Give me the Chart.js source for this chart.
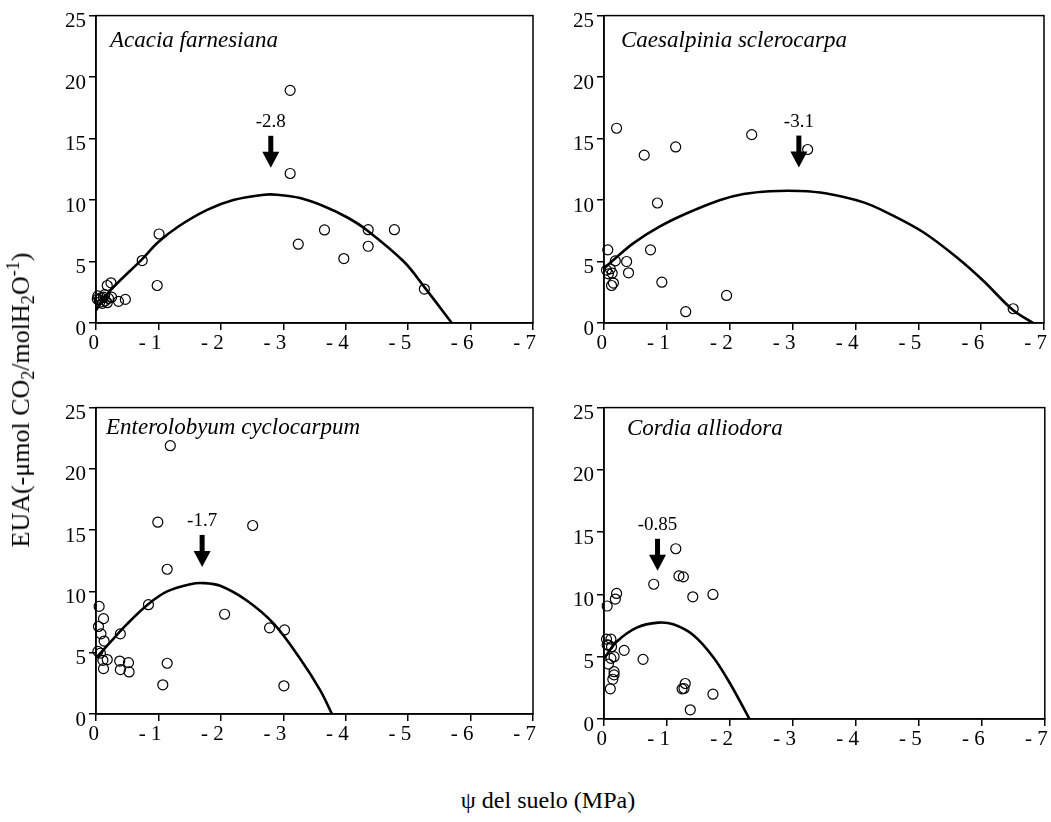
<!DOCTYPE html>
<html>
<head>
<meta charset="utf-8">
<script src="https://cdn.jsdelivr.net/npm/chart.js@4/dist/chart.umd.min.js"></script>
<style>
  html, body { margin: 0; padding: 0; background: #fff; }
  #fig { position: relative; width: 1051px; height: 822px; overflow: hidden;
         font-family: 'Liberation Serif', 'Times New Roman', serif; color: #000; }
  #fig canvas { position: absolute; }
  .ytitle { position: absolute; left: 21px; top: 400px; transform: translate(-50%, -50%) rotate(-90deg);
            font-size: 26px; white-space: nowrap; line-height: 1; }
  .ytitle sub { font-size: 0.7em; vertical-align: -0.3em; line-height: 0; }
  .ytitle sup { font-size: 0.7em; vertical-align: 0.55em; line-height: 0; }
  .xtitle { position: absolute; left: 548px; top: 788px; transform: translateX(-50%);
            font-size: 24px; white-space: nowrap; line-height: 1; }
</style>
</head>
<body>
<div id="fig">
  <canvas id="p0" width="504" height="355" style="left:36px;top:0px"></canvas>
  <canvas id="p1" width="507" height="355" style="left:544px;top:0px"></canvas>
  <canvas id="p2" width="504" height="355" style="left:36px;top:392px"></canvas>
  <canvas id="p3" width="507" height="355" style="left:544px;top:392px"></canvas>
  <div class="ytitle">EUA(-μmol CO<sub>2</sub>/molH<sub>2</sub>O<sup>-1</sup>)</div>
  <div class="xtitle">ψ del suelo (MPa)</div>
</div>
<script>
// Soil water potential (MPa, negative) vs. water-use efficiency, one panel per species.
const species = ['Acacia farnesiana', 'Caesalpinia sclerocarpa', 'Enterolobyum cyclocarpum', 'Cordia alliodora'];

// Water potential at which each fitted curve peaks
const optimumPsi = [-2.8, -3.1, -1.7, -0.85];

const xTickLabels = ['0', '- 1', '- 2', '- 3', '- 4', '- 5', '- 6', '- 7'];

// Observations [psi, EUA]
const acaciaPoints = [
  [-3.11, 18.92], [-3.11, 12.16], [-3.24, 6.41], [-3.66, 7.57], [-3.97, 5.24], [-4.36, 7.59],
  [-4.36, 6.24], [-4.78, 7.59], [-5.26, 2.76], [-1.01, 7.24], [-0.74, 5.08], [-0.98, 3.05],
  [-0.18, 3.05], [-0.24, 3.27], [-0.36, 1.76], [-0.47, 1.92],
  [-0.03, 2.2], [-0.05, 1.9], [-0.08, 2.05], [-0.10, 1.6], [-0.12, 2.1], [-0.15, 1.8],
  [-0.18, 1.65], [-0.20, 2.0], [-0.25, 2.1], [-0.06, 1.7], [-0.14, 2.3], [-0.02, 1.95]
];
const caesalpiniaPoints = [
  [-0.2, 15.84], [-0.64, 13.65], [-1.14, 14.32], [-2.35, 15.32], [-3.24, 14.11], [-0.85, 9.76],
  [-0.74, 5.95], [-0.06, 5.95], [-0.36, 5.0], [-0.39, 4.08], [-0.92, 3.32], [-1.95, 2.24],
  [-1.3, 0.92], [-6.51, 1.16],
  [-0.04, 4.3], [-0.07, 4.0], [-0.10, 4.4], [-0.13, 4.05], [-0.12, 3.05], [-0.15, 3.25], [-0.18, 5.05]
];
const enterolobiumPoints = [
  [-1.19, 21.89], [-0.99, 15.65], [-2.51, 15.38], [-1.14, 11.81], [-0.84, 8.92], [-2.06, 8.14],
  [-2.78, 7.03], [-3.02, 6.86], [-0.39, 6.54], [-0.38, 4.32], [-0.39, 3.62], [-0.52, 4.19],
  [-0.53, 3.43], [-1.14, 4.14], [-1.07, 2.38], [-3.01, 2.3],
  [-0.05, 8.78], [-0.12, 7.78], [-0.04, 7.14], [-0.08, 6.54], [-0.13, 5.95], [-0.03, 5.11],
  [-0.07, 4.97], [-0.11, 4.38], [-0.18, 4.44], [-0.12, 3.7]
];
const cordiaPoints = [
  [-1.14, 13.67], [-0.79, 10.82], [-1.19, 11.49], [-1.26, 11.41], [-1.41, 9.81], [-1.73, 10.0],
  [-0.20, 10.08], [-0.18, 9.63], [-0.05, 9.07], [-0.32, 5.51], [-0.62, 4.79], [-1.29, 2.85],
  [-1.24, 2.42], [-1.27, 2.45], [-1.73, 1.99], [-1.37, 0.74], [-0.10, 2.42],
  [-0.04, 6.41], [-0.11, 6.41], [-0.07, 5.93], [-0.12, 5.8], [-0.16, 5.0], [-0.11, 4.87],
  [-0.07, 4.41], [-0.16, 3.8], [-0.16, 3.54], [-0.14, 3.19], [-0.05, 5.95]
];

// Fitted response curves [psi, EUA]
const acaciaCurve = [
  [0, 1.03], [-0.23, 2.65], [-0.74, 5.2], [-0.99, 6.55], [-1.32, 7.85], [-1.78, 9.2], [-2.2, 10.0],
  [-2.69, 10.43], [-2.9, 10.43], [-3.27, 10.16], [-3.65, 9.5], [-4.02, 8.6], [-4.34, 7.55],
  [-4.93, 5.0], [-5.27, 2.86], [-5.7, 0]
];
const caesalpiniaCurve = [
  [0, 4.45], [-0.2, 5.35], [-0.47, 6.5], [-0.89, 7.85], [-1.31, 8.9], [-1.85, 10.0],
  [-2.22, 10.49], [-2.64, 10.72], [-3.12, 10.74], [-3.52, 10.55], [-4.13, 9.81], [-4.55, 8.86],
  [-5.08, 7.38], [-5.61, 5.35], [-6.03, 3.46], [-6.51, 1.03], [-6.83, 0]
];
const enterolobiumCurve = [
  [0, 4.55], [-0.23, 5.86], [-0.5, 7.35], [-0.84, 8.97], [-1.14, 10.0], [-1.51, 10.59],
  [-1.72, 10.68], [-1.99, 10.46], [-2.42, 9.24], [-2.85, 7.35], [-3.27, 4.51], [-3.59, 1.95],
  [-3.78, 0]
];
const cordiaCurve = [
  [0, 4.85], [-0.2, 6.2], [-0.52, 7.34], [-0.86, 7.74], [-1.1, 7.6], [-1.42, 6.73],
  [-1.73, 5.0], [-2.0, 2.87], [-2.31, 0]
];

const pointSets = [acaciaPoints, caesalpiniaPoints, enterolobiumPoints, cordiaPoints];
const curveSets = [acaciaCurve, caesalpiniaCurve, enterolobiumCurve, cordiaCurve];

// Per-panel layout: padding, axis box sizes, title offset, arrow tip height
const panelLayout = [
  { right: 7, xH: 32, nameDx: 14, nameDy: 31, tipAt: 12.62 },
  { right: 7, xH: 32, nameDx: 17, nameDy: 31, tipAt: 12.64 },
  { right: 7, xH: 33, nameDx: 10, nameDy: 26, tipAt: 12.0 },
  { right: 6, xH: 28, nameDx: 23, nameDy: 27, tipAt: 11.9 }
];

const SERIF = "'Liberation Serif', 'Times New Roman', serif";

const panelDeco = {
  id: 'panelDeco',
  afterDraw(chart, args, o) {
    const { ctx, chartArea: a, scales: { x, y } } = chart;
    ctx.save();
    ctx.strokeStyle = '#000';
    ctx.lineWidth = 1.5;
    ctx.strokeRect(a.left, a.top, a.right - a.left, a.bottom - a.top);

    ctx.fillStyle = '#000';
    ctx.font = 'italic 23px ' + SERIF;
    ctx.textAlign = 'left';
    ctx.textBaseline = 'alphabetic';
    ctx.fillText(o.name, a.left + o.nameDx, a.top + o.nameDy);

    // Arrow marking the optimum water potential
    const px = x.getPixelForValue(o.optimum);
    const tip = y.getPixelForValue(o.tipAt);
    ctx.fillRect(px - 2.5, tip - 32, 5, 17);
    ctx.beginPath();
    ctx.moveTo(px - 8.5, tip - 16);
    ctx.lineTo(px + 8.5, tip - 16);
    ctx.lineTo(px, tip);
    ctx.closePath();
    ctx.fill();
    ctx.font = '19px ' + SERIF;
    ctx.textAlign = 'center';
    ctx.textBaseline = 'middle';
    ctx.fillText(String(o.optimum), px, tip - 46);
    ctx.restore();
  }
};

function toXY(list) { return list.map(([px, py]) => ({ x: px, y: py })); }

species.forEach((name, i) => {
  const L = panelLayout[i];
  new Chart(document.getElementById('p' + i), {
    type: 'scatter',
    data: {
      datasets: [
        {
          data: toXY(curveSets[i]), showLine: true, borderColor: '#000', borderWidth: 2.6,
          pointRadius: 0, tension: 0.35, fill: false
        },
        {
          data: toXY(pointSets[i]), showLine: false, pointRadius: 5, pointBorderWidth: 1.2,
          pointBorderColor: '#000', pointBackgroundColor: 'rgba(0,0,0,0)', clip: false
        }
      ]
    },
    options: {
      responsive: false,
      animation: false,
      devicePixelRatio: 1,
      events: [],
      layout: { padding: { top: 14, right: L.right, left: 0, bottom: 0 } },
      plugins: {
        legend: { display: false },
        tooltip: { enabled: false },
        panelDeco: { name: name, optimum: optimumPsi[i], nameDx: L.nameDx, nameDy: L.nameDy, tipAt: L.tipAt }
      },
      scales: {
        x: {
          type: 'linear', min: -7, max: 0, reverse: true,
          afterFit(s) { s.height = L.xH; },
          ticks: {
            stepSize: 1, align: 'end', labelOffset: 3, padding: 1, color: '#000',
            font: { family: SERIF, size: 21 },
            callback: (v) => xTickLabels[Math.round(-v)]
          },
          grid: { drawOnChartArea: false, tickLength: 7, color: '#000', lineWidth: 1.5 },
          border: { color: '#000', width: 1.5 }
        },
        y: {
          min: 0, max: 25,
          afterFit(s) { s.width = 60; },
          ticks: {
            stepSize: 5, labelOffset: 6, padding: 3, color: '#000',
            font: { family: SERIF, size: 21 }
          },
          grid: { drawOnChartArea: false, tickLength: 7, color: '#000', lineWidth: 1.5 },
          border: { color: '#000', width: 1.5 }
        }
      }
    },
    plugins: [panelDeco]
  });
});
</script>
</body>
</html>
